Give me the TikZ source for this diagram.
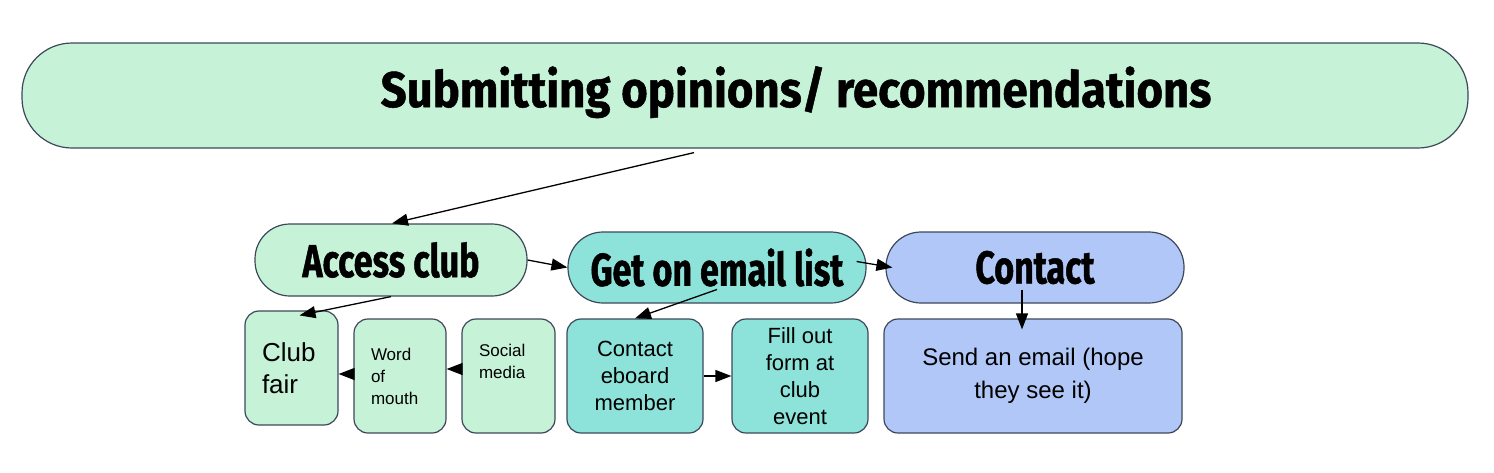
\documentclass[tikz,border=0pt]{standalone}
\usepackage{fontspec}
\setmainfont{Liberation Sans}
\newfontfamily\headfont[FakeStretch=0.91,FakeBold=1]{Fira Sans}
\newfontfamily\pillfont[FakeStretch=0.74,FakeBold=1]{Fira Sans}
\usetikzlibrary{arrows.meta}
\definecolor{mint}{RGB}{198,243,216}
\definecolor{aqua}{RGB}{141,227,217}
\definecolor{periw}{RGB}{176,199,248}
\definecolor{edge}{RGB}{60,72,90}
\begin{document}
\begin{tikzpicture}[x=1pt,y=-1pt,
  box/.style={draw=edge, line width=1.2pt, inner sep=0pt, align=center},
  pill/.style={box, rounded corners=35pt, font=\pillfont\bfseries\fontsize{46}{52}\selectfont},
  card/.style={box, rounded corners=14pt, minimum height=114pt},
  arr/.style={-{Triangle[length=16pt,width=12pt]}, line width=1.3pt}]
\useasboundingbox (0,0) rectangle (1494,472);
% header
\node[pill, fill=mint, minimum width=1446pt, minimum height=105pt, rounded corners=50pt] (subm) at (745,95.5) {};
\node[font=\headfont\bfseries\fontsize{50}{56}\selectfont, anchor=base] (submtext) at (796,107) {Submitting opinions/ recommendations};
% steps
\node[pill, fill=mint, minimum width=272pt, minimum height=72pt] (access) at (391,260) {Access club};
\node[pill, fill=aqua, minimum width=298pt, minimum height=71pt] (emaillist) at (717,267.5) {Get on email list};
\node[pill, fill=periw, minimum width=298pt, minimum height=71pt] (contact) at (1035,267.5) {Contact};
% ways
\node[card, fill=mint, minimum width=93pt, text width=59pt, align=left, font=\fontsize{26}{32}\selectfont] (clubfair) at (291.5,368) {Club\\fair};
\node[card, fill=mint, minimum width=92pt, text width=58pt, align=left, font=\fontsize{17}{22}\selectfont] (word) at (400,376) {Word\\of\\mouth};
\node[card, fill=mint, minimum width=93pt, text width=59pt, align=left, font=\fontsize{17}{22}\selectfont] (social) at (508.5,376) {Social\\media\\\strut};
\node[card, fill=aqua, minimum width=136pt, font=\fontsize{22}{27}\selectfont] (eboard) at (635,376) {Contact\\eboard\\member};
\node[card, fill=aqua, minimum width=136pt, font=\fontsize{22}{27}\selectfont] (fillout) at (800,376) {Fill out\\form at\\club\\event};
\node[card, fill=periw, minimum width=298pt, font=\fontsize{24}{33}\selectfont] (sendmail) at (1033,376) {Send an email (hope\\they see it)};
% arrows
\draw[arr] ([xshift=-51pt,yshift=-4pt]subm.south) -- ([xshift=1pt]access.north);
\draw[arr] (access.east) -- (emaillist.west);
\draw[arr] (access.south) -- ([xshift=8pt,yshift=-5pt]clubfair.north);
\draw[arr] ([yshift=2pt]word.west) -- ([yshift=2pt]word.west -| clubfair.east);
\draw[arr] ([yshift=7pt]social.west) -- ([yshift=7pt]word.east);
\draw[arr] ([xshift=-10pt,yshift=6pt]emaillist.east) -- ([xshift=7pt]contact.west);
\draw[arr] ([yshift=-22pt]emaillist.center) -- (eboard.north);
\draw[arr] (eboard.east) -- (fillout.west);
\draw[arr] ([xshift=-13pt,yshift=-22pt]contact.center) -- ([xshift=-11pt,yshift=-11pt]sendmail.north);
\end{tikzpicture}
\end{document}
